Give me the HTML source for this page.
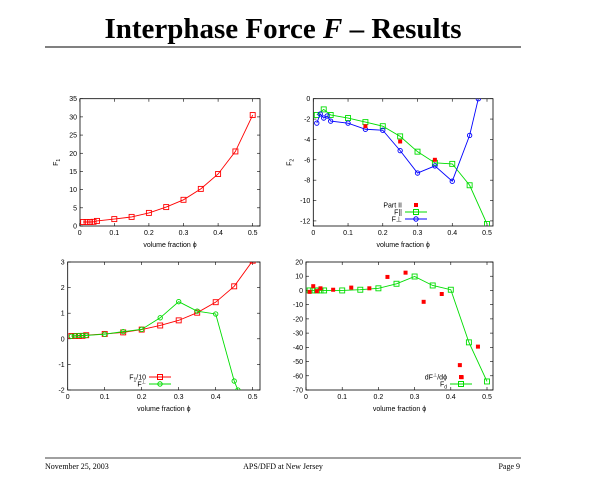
<!DOCTYPE html>
<html><head><meta charset="utf-8"><style>
body{margin:0;background:#fff;width:600px;height:480px;overflow:hidden}
svg{display:block}
.t{font-family:"Liberation Sans",sans-serif;font-size:7px;fill:#000}
.s{font-family:"Liberation Serif",serif}
</style></head><body>
<svg id="c" width="600" height="480" xmlns="http://www.w3.org/2000/svg">
<text x="283" y="38" text-anchor="middle" class="s" font-size="29" font-weight="bold">Interphase Force <tspan font-style="italic">F</tspan> – Results</text>
<line x1="45" y1="47" x2="521" y2="47" stroke="#000" stroke-width="1"/>
<line x1="45" y1="458" x2="521" y2="458" stroke="#000" stroke-width="0.8"/>
<text x="45" y="469" class="s" font-size="8">November 25, 2003</text>
<text x="283" y="469" class="s" font-size="8" text-anchor="middle">APS/DFD at New Jersey</text>
<text x="520" y="469" class="s" font-size="8" text-anchor="end">Page 9</text>
</svg>
<script>
const xs=[0.01,0.02,0.03,0.04,0.05,0.1,0.15,0.2,0.25,0.3,0.35,0.4,0.45,0.5];
const f1=[1.1,1.1,1.1,1.15,1.4,1.9,2.5,3.6,5.2,7.2,10.2,14.3,20.5,30.5];
const fparX=[0.01,0.03,0.05,0.1,0.15,0.2,0.25,0.3,0.35,0.4,0.45,0.5];
const fpar=[-1.6,-1.05,-1.6,-1.9,-2.3,-2.7,-3.7,-5.2,-6.3,-6.4,-8.5,-12.3];
const fperpX=[0.01,0.02,0.03,0.04,0.05,0.1,0.15,0.2,0.25,0.3,0.35,0.4,0.45,0.475];
const fperp=[-2.4,-1.5,-1.9,-1.7,-2.2,-2.4,-3.0,-3.1,-5.1,-7.3,-6.6,-8.1,-3.6,0];
const part2X=[0.15,0.25,0.35];
const part2=[-2.7,-4.2,-6.0];
const f1s=f1.map(v=>v/10);
const fperp3X=[0.01,0.02,0.03,0.04,0.05,0.1,0.15,0.2,0.25,0.3,0.35,0.4,0.45,0.46];
const fperp3=[0.1,0.12,0.13,0.13,0.13,0.18,0.28,0.37,0.82,1.45,1.08,0.97,-1.65,-2];
const fdX=xs;
const fd=[0,0,0,0,0,0,0.5,1.5,4.7,9.8,3.5,0.5,-36.5,-64];
const dX=[0.01,0.02,0.03,0.04,0.075,0.125,0.175,0.225,0.275,0.325,0.375,0.425,0.43,0.475];
const dY=[-1,3,-0.5,1.5,0.5,2,1.5,9.5,12.5,-8,-2.5,-52.5,-61,-39.5];
const xTicks=[0,0.1,0.2,0.3,0.4,0.5];
const NS='http://www.w3.org/2000/svg';
const svg=document.getElementById('c');
function mk(tag,at,parent){const e=document.createElementNS(NS,tag);for(const k in at)e.setAttribute(k,at[k]);(parent||svg).appendChild(e);return e;}
function panel(p){
 const g=mk('g',{});
 
 
 const X=v=>p.x0+(v-0)*(p.x5-p.x0)/0.5;
 const Y=v=>p.yb+(v-p.ymin)*(p.yt-p.yb)/(p.ymax-p.ymin);
 const cid='clip'+p.name;
 const cp=mk('clipPath',{id:cid},g);mk('rect',{x:p.L,y:p.yt,width:p.R-p.L,height:p.yb-p.yt},cp);
 const fr=mk('rect',{x:p.L,y:p.yt,width:p.R-p.L,height:p.yb-p.yt,fill:'none',stroke:'#000','stroke-width':0.8},g);
 
 
 xTicks.forEach(t=>{const x=X(t);mk('line',{x1:x,y1:p.yb,x2:x,y2:p.yb-3,stroke:'#000','stroke-width':0.6},g);mk('line',{x1:x,y1:p.yt,x2:x,y2:p.yt+3,stroke:'#000','stroke-width':0.6},g);
  const tx=mk('text',{x:x,y:p.yb+9,'text-anchor':'middle',class:'t'},g);tx.textContent=t;
  
  });
 p.yTicks.forEach(t=>{const y=Y(t);mk('line',{x1:p.L,y1:y,x2:p.L+3,y2:y,stroke:'#000','stroke-width':0.6},g);mk('line',{x1:p.R,y1:y,x2:p.R-3,y2:y,stroke:'#000','stroke-width':0.6},g);
  const tx=mk('text',{x:p.L-3,y:y+2.5,'text-anchor':'end',class:'t'},g);tx.textContent=t;
  
  });
 const xl=mk('text',{x:(p.L+p.R)/2,y:p.yb+21,'text-anchor':'middle',class:'t'},g);xl.textContent='volume fraction ϕ';
 
 
 if(p.ylab){const yl=mk('text',{x:0,y:0,'text-anchor':'middle',class:'t',transform:`translate(${p.L-22},${(p.yt+p.yb)/2}) rotate(-90)`},g);yl.innerHTML=p.ylab;
  
  }
 const cg=mk('g',{'clip-path':`url(#${cid})`},g);
 p.series.forEach(s=>{
  const sg=mk('g',{},cg);
  
  
  if(s.line){mk('polyline',{points:s.x.map((v,i)=>X(v)+','+Y(s.y[i])).join(' '),fill:'none',stroke:s.c,'stroke-width':0.9},sg);}
  s.x.forEach((v,i)=>{const x=X(v),y=Y(s.y[i]);let m;
   if(s.m==='sq')m=mk('rect',{x:x-2.5,y:y-2.5,width:5,height:5,fill:'none',stroke:s.c,'stroke-width':0.9},sg);
   else if(s.m==='ci')m=mk('circle',{cx:x,cy:y,r:2.2,fill:'none',stroke:s.c,'stroke-width':0.9},sg);
   else m=mk('rect',{x:x-2,y:y-2,width:4,height:4,fill:s.c},sg);
   
   });
 });
 (p.legend||[]).forEach((l,i)=>{const y=p.ly+i*7;
  const tx=mk('text',{x:p.lx,y:y+2.5,'text-anchor':'end',class:'t'},g);tx.innerHTML=l.t;
  
  
  const cx=p.lx+14;
  if(l.line)mk('line',{x1:p.lx+3,y1:y,x2:p.lx+25,y2:y,stroke:l.c,'stroke-width':0.9},g);
  if(l.m==='sq')mk('rect',{x:cx-2.5,y:y-2.5,width:5,height:5,fill:'none',stroke:l.c},g);
  else if(l.m==='ci')mk('circle',{cx:cx,cy:y,r:2.2,fill:'none',stroke:l.c},g);
  else mk('rect',{x:cx-2,y:y-2,width:4,height:4,fill:l.c},g);});
}
panel({name:'panel-f1',L:80,R:260,yt:98.7,yb:226,x0:79.7,x5:252.7,ymin:0,ymax:35,yTicks:[0,5,10,15,20,25,30,35],ylab:'F<tspan font-size="5" dy="2">1</tspan>',
 series:[{name:'series-f1',x:xs,y:f1,c:'#f00',m:'sq',line:1}]});
panel({name:'panel-f2',L:313.3,R:493,yt:98.7,yb:226,x0:313.3,x5:487,ymin:-12.5,ymax:0,yTicks:[0,-2,-4,-6,-8,-10,-12],ylab:'F<tspan font-size="5" dy="2">2</tspan>',
 series:[{name:'series-f-parallel',x:fparX,y:fpar,c:'#0d0',m:'sq',line:1},{name:'series-f-perp',x:fperpX,y:fperp,c:'#00f',m:'ci',line:1},{name:'series-part2',x:part2X,y:part2,c:'#f00',m:'dot'}],
 lx:402,ly:205,legend:[{t:'Part II',c:'#f00',m:'dot'},{t:'F||',c:'#0d0',m:'sq',line:1},{t:'F⊥',c:'#00f',m:'ci',line:1}]});
panel({name:'panel-f1-scaled',L:67.7,R:260,yt:262,yb:390,x0:67.7,x5:252.7,ymin:-2,ymax:3,yTicks:[3,2,1,0,-1,-2],
 series:[{name:'series-f1-over-10',x:xs,y:f1s,c:'#f00',m:'sq',line:1},{name:'series-f-perp',x:fperp3X,y:fperp3,c:'#0d0',m:'ci',line:1}],
 lx:146,ly:377,legend:[{t:'F<tspan font-size="5" dy="2">1</tspan><tspan dy="-2">/10</tspan>',c:'#f00',m:'sq',line:1},{t:'F<tspan font-size="5" dy="-3">⊥</tspan>',c:'#0d0',m:'ci',line:1}]});
panel({name:'panel-fd',L:306,R:493,yt:262,yb:390,x0:306,x5:487,ymin:-70,ymax:20,yTicks:[20,10,0,-10,-20,-30,-40,-50,-60,-70],
 series:[{name:'series-fd-perp',x:fdX,y:fd,c:'#0d0',m:'sq',line:1},{name:'series-dfperp-dphi',x:dX,y:dY,c:'#f00',m:'dot'}],
 lx:447,ly:377,legend:[{t:'dF<tspan font-size="5" dy="-3">⊥</tspan><tspan dy="3">/dϕ</tspan>',c:'#f00',m:'dot'},{t:'F<tspan font-size="5" dy="2">d</tspan>',c:'#0d0',m:'sq',line:1}]});
</script>
</body></html>
